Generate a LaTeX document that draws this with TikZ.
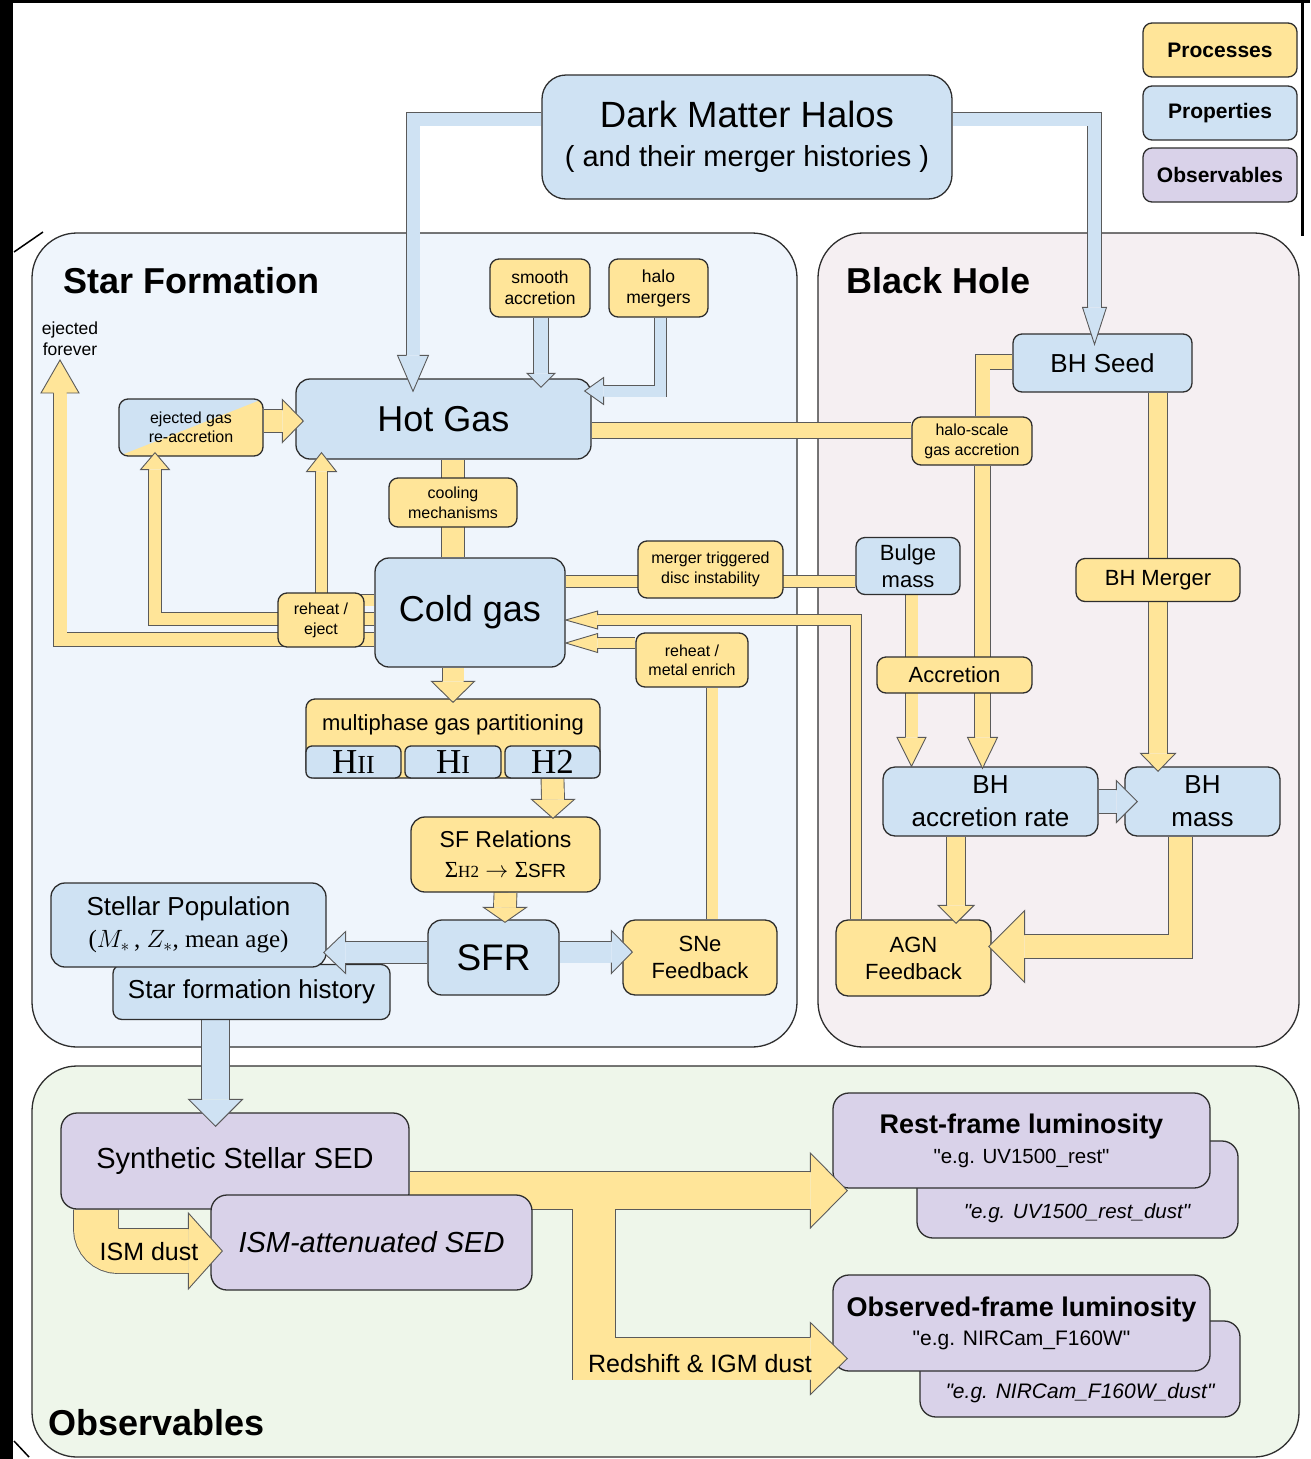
\RequirePackage{fix-cm}
\documentclass[tikz,border=0pt]{standalone}
\usepackage{fontspec}
\setmainfont{Liberation Sans}
\newfontfamily\serifface{Liberation Serif}
\newfontfamily\qface{Liberation Sans}
\usetikzlibrary{calc}

\definecolor{procfill}{HTML}{FFE599}
\definecolor{propfill}{HTML}{CFE2F3}
\definecolor{obsfill}{HTML}{D9D2E9}
\definecolor{sfback}{HTML}{EFF5FC}
\definecolor{bhback}{HTML}{F5EFF2}
\definecolor{obsback}{HTML}{EEF6EA}
\definecolor{edgecol}{HTML}{2E2E2E}
\definecolor{bandedge}{HTML}{5A5A5A}

\pgfdeclarelayer{panel}
\pgfdeclarelayer{bandline}
\pgfdeclarelayer{bandfill}
\pgfsetlayers{panel,bandline,bandfill,main}

\newcommand\fs[2]{\fontsize{#1}{#2}\selectfont}
\newcommand\dq{{\qface"}}
\newcommand\band[3][procfill]{%
  \begin{pgfonlayer}{bandline}\draw[bandedge, line width=#2pt+1.8pt] #3;\end{pgfonlayer}%
  \begin{pgfonlayer}{bandfill}\draw[#1, line width=#2pt] #3;\end{pgfonlayer}}

\tikzset{
  box/.style={draw=edgecol, line width=1.3pt, rounded corners=9, inner sep=0pt, align=center},
  proc/.style={box, fill=procfill},
  prop/.style={box, fill=propfill},
  obsv/.style={box, fill=obsfill},
  ejbox/.style={box, fill=propfill, path picture={\fill[procfill, sharp corners] (path picture bounding box.south west) -- (path picture bounding box.north east) -- (path picture bounding box.south east) -- cycle;}},
  panelbox/.style={draw=edgecol, line width=1.3pt, rounded corners=45},
  title/.style={anchor=west, inner sep=0pt, font=\bfseries\fs{36}{40}},
  plain/.style={inner sep=0pt, align=center},
  pics/head/.style args={#1/#2/#3/#4}{code={
    \filldraw[fill=#1, draw=bandedge, line width=0.9pt] (-#3,#4) -- (-#3,#2) -- (0,0) -- (-#3,-#2) -- (-#3,-#4);}},
}

\begin{document}
\begin{tikzpicture}[x=1pt, y=-1pt]
\useasboundingbox (0,0) rectangle (1310,1459);
\begin{pgfonlayer}{panel}
  \fill[white] (0,0) rectangle (1310,1459);
  \fill[black] (0,0) rectangle (13,1459);
  \fill[black] (0,0) rectangle (1310,3);
  \fill[black] (1301,0) rectangle (1304,236);
  \draw[black, line width=1.5pt] (14,252) -- (43,232) (14,1441) -- (29,1457);
  \draw[panelbox, fill=sfback] (32,233) rectangle (797,1047);
  \draw[panelbox, fill=bhback] (818,233) rectangle (1299,1047);
  \draw[panelbox, fill=obsback] (32,1066) rectangle (1299,1457);
\end{pgfonlayer}

% legend
\node[proc, minimum width=154, minimum height=54, font=\bfseries\fs{21}{25}] (legproc) at (1220,50) {Processes};
\node[prop, minimum width=154, minimum height=54, font=\bfseries\fs{21}{25}] (legprop) at (1220,113) {Properties};
\node[obsv, minimum width=154, minimum height=54, font=\bfseries\fs{21}{25}] (legobs) at (1220,175) {Observables};

\node[prop, rounded corners=24, minimum width=410, minimum height=124, font=\fs{29}{39}] (dmh) at (747,137) {{\fs{36.5}{39}Dark Matter Halos}\\( and their merger histories )};

\node[title] (sftitle) at (63,281) {Star Formation};
\node[title] (bhtitle) at (846,281) {Black Hole};
\node[title] (obstitle) at (48,1423) {Observables};

% star formation
\node[proc, minimum width=100, minimum height=58, font=\fs{17.5}{21}] (smooth) at (540,288) {smooth\\accretion};
\node[proc, minimum width=99, minimum height=58, font=\fs{17.5}{21}] (halomerg) at (658.5,288) {halo\\mergers};
\node[prop, rounded corners=14, minimum width=295, minimum height=80, font=\fs{36}{40}] (hot) at (443.5,419) {Hot Gas};
\node[ejbox, minimum width=144, minimum height=57, font=\fs{16}{19}] (ejgas) at (191,427.5) {ejected gas\\re-accretion};
\node[plain, font=\fs{17.5}{21}] (forevertxt) at (70,339) {ejected\\forever};
\coordinate (forever) at (60,360);
\node[proc, minimum width=128, minimum height=49, font=\fs{16}{20}] (cooling) at (453,502.5) {cooling\\mechanisms};
\node[prop, rounded corners=14, minimum width=190, minimum height=109, font=\fs{36}{40}] (cold) at (470,612.5) {Cold gas};
\node[proc, minimum width=86, minimum height=54, font=\fs{16}{20}] (reheatej) at (321,620) {reheat /\\eject};
\node[proc, minimum width=145, minimum height=57, font=\fs{16}{20}] (merger) at (710.5,569.5) {merger triggered\\disc instability};
\node[proc, minimum width=112, minimum height=54, font=\fs{16}{19}] (reheatmet) at (692,660) {reheat /\\metal enrich};
\node[proc, minimum width=294, minimum height=79] (multi) at (453,738.5) {};
\node[plain, font=\fs{22}{26}] (multilbl) at (453,725) {multiphase gas partitioning};
\node[prop, rounded corners=6, minimum width=95, minimum height=32, font=\serifface\fs{35}{36}] (hii) at (353.5,762) {H{\fs{26}{30}II}};
\node[prop, rounded corners=6, minimum width=96, minimum height=32, font=\serifface\fs{35}{36}] (hi) at (453,762) {H{\fs{26}{30}I}};
\node[prop, rounded corners=6, minimum width=95, minimum height=32, font=\serifface\fs{35}{36}] (htwo) at (552.5,762) {H2};
\node[proc, rounded corners=14, minimum width=189, minimum height=75, font=\fs{23}{30}] (sfrel) at (505.5,854.5) {SF Relations\\{\serifface Σ\fs{17}{30}H2} $\rightarrow$ {\serifface Σ}{\fs{19}{30}SFR}};
\node[prop, rounded corners=14, minimum width=131, minimum height=75, font=\fs{37}{40}] (sfr) at (493.5,957.5) {SFR};
\node[proc, rounded corners=12, minimum width=154, minimum height=75, font=\fs{22}{27}] (sne) at (700,957.5) {SNe\\Feedback};
\node[prop, minimum width=277, minimum height=55, font=\fs{26}{30}] (sfh) at (251.5,992) {Star formation history};
\node[prop, rounded corners=14, minimum width=275, minimum height=84, font=\fs{26}{32}] (stellar) at (188.5,925) {Stellar Population\\{\serifface\fs{25}{32}($M_*$\,, $Z_*$, mean age)}};

% black hole
\node[prop, minimum width=179, minimum height=58, font=\fs{26}{30}] (bhseed) at (1102.5,363) {BH Seed};
\node[proc, minimum width=120, minimum height=48, font=\fs{16}{20}] (halosc) at (972,441) {halo-scale\\gas accretion};
\node[prop, minimum width=104, minimum height=57, font=\fs{22}{27}] (bulge) at (908,566) {Bulge\\mass};
\node[proc, minimum width=164, minimum height=43, font=\fs{22}{26}] (bhmerg) at (1158,580) {BH Merger};
\node[proc, minimum width=155, minimum height=36, font=\fs{22}{26}] (accr) at (954.5,675) {Accretion};
\node[prop, rounded corners=12, minimum width=215, minimum height=69, font=\fs{26}{33}] (bhrate) at (990.5,801.5) {BH\\accretion rate};
\node[prop, rounded corners=12, minimum width=155, minimum height=69, font=\fs{26}{33}] (bhmass) at (1202.5,801.5) {BH\\mass};
\node[proc, rounded corners=12, minimum width=155, minimum height=76, font=\fs{22}{27}] (agn) at (913.5,958) {AGN\\Feedback};

% observables
\node[obsv, rounded corners=16, minimum width=348, minimum height=96, font=\fs{29}{34}] (sed) at (235,1161) {Synthetic Stellar SED};
\node[obsv, rounded corners=16, minimum width=321, minimum height=95, font=\itshape\fs{29}{34}] (ismsed) at (371.5,1242.5) {ISM-attenuated SED};
\node[obsv, rounded corners=16, minimum width=321, minimum height=97] (restdust) at (1077.5,1189.5) {};
\node[plain, font=\itshape\fs{20.5}{24}] (restdusttxt) at (1077,1213) {\dq e.g. UV1500\_rest\_dust\dq};
\node[obsv, rounded corners=16, minimum width=377, minimum height=95, font=\fs{20.5}{30}] (rest) at (1021.5,1140.5) {{\bfseries\fs{27}{30}Rest-frame luminosity}\\\dq e.g. UV1500\_rest\dq};
\node[obsv, rounded corners=16, minimum width=320, minimum height=96] (obsdust) at (1080,1369) {};
\node[plain, font=\itshape\fs{21}{25}] (obsdusttxt) at (1080,1393) {\dq e.g. NIRCam\_F160W\_dust\dq};
\node[obsv, rounded corners=16, minimum width=377, minimum height=96, font=\fs{21}{29}] (obs) at (1021.5,1323) {{\bfseries\fs{27}{29}Observed-frame luminosity}\\\dq e.g. NIRCam\_F160W\dq};
\coordinate (fork) at (594,1190.5);

% process bands
\band{22}{(cooling |- hot.south) -- (cooling |- cold.north)}
\band{15}{($(hot.east)+(0,11.5)$) -- ($(halosc.west)+(0,-10.5)$)}
\band{14}{($(bhseed.west)+(0,-1)$) -| ($(halosc.north)+(10.5,0)$)}
\band{15}{($(halosc.south)+(10.5,0)$) -- ($(bhrate.north)+(-8,-29)$)}
\band{12}{($(bulge.south)+(3.5,0)$) -- ($(bhrate.north)+(-79,-29)$)}
\band{11}{($(cold.east)+(0,-31)$) -- ($(bulge.west)+(0,15.5)$)}
\band{10}{($(agn.north)+(-57.5,0)$) |- ($(cold.east)+(32,7.5)$)}
\band{11}{($(sne.north)+(12,0)$) -- ($(reheatmet.south)+(20,0)$)}
\band{10}{($(reheatmet.west)+(0,-17)$) -- ($(cold.east)+(32,30.5)$)}
\band{18}{($(bhseed.south)+(55.5,0)$) -- (bhmerg.north)}
\band{18}{(bhmerg.south) -- ($(bhmass.north)+(-44.5,-13)$)}
\band{18}{($(bhrate.south)+(-34.5,0)$) -- ($(agn.north)+(42.5,-14)$)}
\band{23}{($(bhmass.south)+(-22,0)$) |- ($(agn.east)+(33,-11.5)$)}
\band{21}{($(cold.south)+(-17,0)$) -- ($(multi.north)+(0,-17)$)}
\band{22}{(htwo.south) -- ($(sfrel.north)+(47.5,-17)$)}
\band{22}{(sfrel.south) -- ($(sfr.north)+(11.5,-12)$)}
\band{11}{($(cold.west)+(0,-12.5)$) -| ($(hot.south)+(-122,12)$)}
\band{12}{($(cold.west)+(0,6.5)$) -| ($(ejgas.south)+(-36,13)$)}
\band{13}{($(cold.west)+(0,27)$) -| ($(forever)+(0,33)$)}
\band{22}{($(ejgas.east)+(0,-6.5)$) -- ($(hot.west)+(-13,2)$)}
\band{44}{[rounded corners=22] ($(sed.south)+(-139,0)$) |- ($(ismsed.west)+(-22,8.5)$)}
\band{37}{($(sed.east)+(0,29.5)$) -- ($(rest.west)+(-22,50)$)}
\band{42}{(fork) |- ($(obs.west)+(-22,35.5)$)}

% property bands
\band[propfill]{13}{($(dmh.west)+(0,-18)$) -| ($(hot.north)+(-30.5,-23)$)}
\band[propfill]{13}{($(dmh.east)+(0,-18)$) -| ($(bhseed.north)+(-8,-26)$)}
\band[propfill]{14}{($(smooth.south)+(1,0)$) -- ($(hot.north)+(97.5,-5)$)}
\band[propfill]{11}{($(halomerg.south)+(2,0)$) |- ($(hot.east)+(12,-28)$)}
\band[propfill]{21}{($(sfr.west)+(0,-5)$) -- ($(stellar.east)+(19,27.5)$)}
\band[propfill]{21}{($(sfr.east)+(0,-5.5)$) -- ($(sne.west)+(-11,-5.5)$)}
\band[propfill]{27}{($(sfh.south)+(-36,0)$) -- ($(sed.north)+(-19.5,-13)$)}
\band[propfill]{23}{(bhrate.east) -- ($(bhmass.west)+(-8,0)$)}

% heads
\pic[rotate=-90] at ($(hot.north)+(-30.5,13)$) {head=propfill/15.5/36/6.5};
\pic[rotate=-90] at ($(bhseed.north)+(-8,11)$) {head=propfill/12/37/6.5};
\pic[rotate=-90] at ($(hot.north)+(97.5,9)$) {head=propfill/14/14/7};
\pic[rotate=180] at ($(hot.east)+(-7,-28)$) {head=propfill/13.5/19/5.5};
\pic[rotate=180] at ($(stellar.east)+(-3,27.5)$) {head=propfill/21/22/10.5};
\pic at ($(sne.west)+(10,-5.5)$) {head=propfill/21.5/21/10.5};
\pic[rotate=-90] at ($(sed.north)+(-19.5,14)$) {head=propfill/27/27/13.5};
\pic at ($(bhmass.west)+(13,0)$) {head=propfill/21/21/11.5};

\pic[rotate=-90] at ($(bhrate.north)+(-8,2)$) {head=procfill/15/31/7.5};
\pic[rotate=-90] at ($(bhrate.north)+(-79,0)$) {head=procfill/14.5/29/6};
\pic[rotate=180] at ($(cold.east)+(0,7.5)$) {head=procfill/9/32/5};
\pic[rotate=180] at ($(cold.east)+(0,30.5)$) {head=procfill/9.5/32/5};
\pic[rotate=-90] at ($(bhmass.north)+(-44.5,5)$) {head=procfill/17.5/18/9};
\pic[rotate=-90] at ($(agn.north)+(42.5,4)$) {head=procfill/18/18/9};
\pic[rotate=180] at ($(agn.east)+(-3,-11.5)$) {head=procfill/36/36/11.5};
\pic[rotate=-90] at ($(multi.north)+(0,4)$) {head=procfill/21.5/21/10.5};
\pic[rotate=-90] at ($(sfrel.north)+(47.5,2)$) {head=procfill/21.5/19/11};
\pic[rotate=-90] at ($(sfr.north)+(11.5,3)$) {head=procfill/21.5/15/11};
\pic[rotate=90] at ($(hot.south)+(-122,-7)$) {head=procfill/15/19/5.5};
\pic[rotate=90] at ($(ejgas.south)+(-36,-4)$) {head=procfill/14.5/17/6};
\pic[rotate=90] at (forever) {head=procfill/19/33/6.5};
\pic at ($(hot.west)+(8,2)$) {head=procfill/21.5/21/11};
\pic at ($(ismsed.west)+(12,8.5)$) {head=procfill/38/34/22};
\pic at ($(rest.west)+(15,50)$) {head=procfill/37.5/37/18.5};
\pic at ($(obs.west)+(15,35.5)$) {head=procfill/36/37/21};

\node[plain, font=\fs{25}{30}] (ismdust) at (149,1252) {ISM dust};
\node[plain, font=\fs{25}{30}] (redshift) at (700,1364) {Redshift \& IGM dust};
\end{tikzpicture}
\end{document}
